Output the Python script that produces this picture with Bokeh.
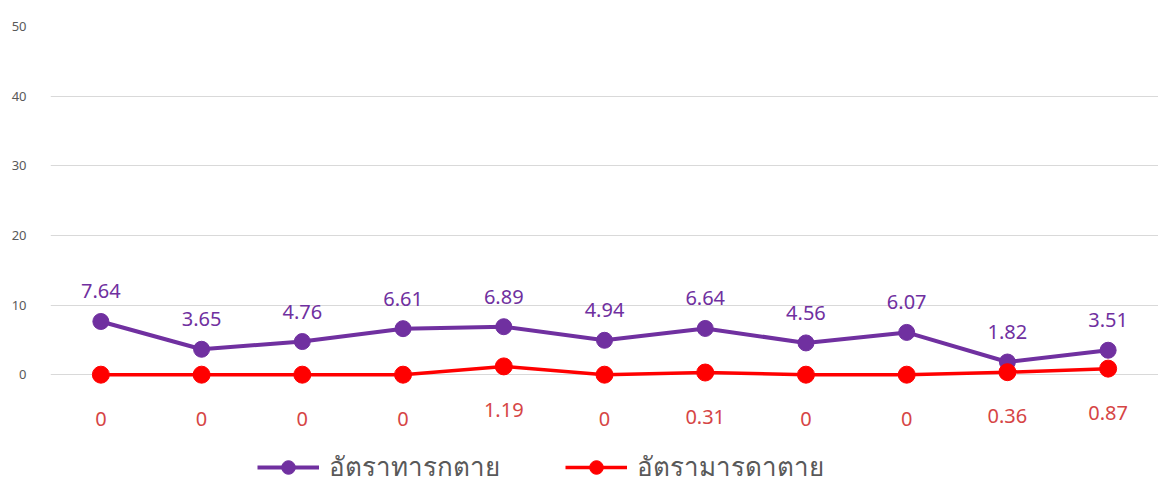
from bokeh.plotting import figure
from bokeh.models import ColumnDataSource, FixedTicker, Legend, LegendItem, Range1d, LabelSet
from bokeh.core.properties import value
from bokeh.embed import file_html
from bokeh.resources import INLINE

points = [1, 2, 3, 4, 5, 6, 7, 8, 9, 10, 11]
infant_rate = [7.64, 3.65, 4.76, 6.61, 6.89, 4.94, 6.64, 4.56, 6.07, 1.82, 3.51]
maternal_rate = [0, 0, 0, 0, 1.19, 0, 0.31, 0, 0, 0.36, 0.87]
y_ticks = [0, 10, 20, 30, 40, 50]
name_infant = "อัตราทารกตาย"
name_maternal = "อัตรามารดาตาย"

purple = "#7030a0"
red = "#ff0000"
red_label = "#d64545"

src_i = ColumnDataSource(dict(x=points, y=infant_rate, t=[f"{v:g}" for v in infant_rate]))
src_m = ColumnDataSource(dict(x=points, y=maternal_rate, t=[f"{v:g}" for v in maternal_rate]))

p = figure(width=1158, height=487, output_backend="svg", toolbar_location=None,
           x_range=Range1d(0.5, 11.5), y_range=Range1d(-16.2, 50),
           min_border_top=26, min_border_left=50, min_border_right=0, min_border_bottom=0)
p.outline_line_color = None
p.xaxis.visible = False
p.xgrid.visible = False
p.ygrid.ticker = FixedTicker(ticks=y_ticks)
p.ygrid.grid_line_color = "#d9d9d9"
p.ygrid.grid_line_width = 1
p.yaxis.ticker = FixedTicker(ticks=y_ticks)
p.yaxis.axis_line_color = None
p.yaxis.major_tick_line_color = None
p.yaxis.minor_tick_line_color = None
p.yaxis.major_label_text_font = "Noto Sans"
p.yaxis.major_label_text_font_size = "13px"
p.yaxis.major_label_text_color = "#595959"
p.yaxis.major_label_standoff = 18

l1 = p.line("x", "y", source=src_i, line_color=purple, line_width=4)
c1 = p.scatter("x", "y", source=src_i, size=16, fill_color=purple, line_color=purple)
l2 = p.line("x", "y", source=src_m, line_color=red, line_width=3.5)
c2 = p.scatter("x", "y", source=src_m, size=17, fill_color=red, line_color=red)

lab1 = LabelSet(x="x", y="y", text="t", source=src_i, y_offset=30, text_align="center",
                text_baseline="middle", text_color=purple, text_font=value("Noto Sans"),
                text_font_size="20px")
lab2 = LabelSet(x="x", y="y", text="t", source=src_m, y_offset=-44, text_align="center",
                text_baseline="middle", text_color=red_label, text_font=value("Noto Sans"),
                text_font_size="20px")
p.add_layout(lab1)
p.add_layout(lab2)

legend = Legend(items=[LegendItem(label=name_infant, renderers=[l1, c1]),
                       LegendItem(label=name_maternal, renderers=[l2, c2])],
                orientation="horizontal", location=(207, 0),
                glyph_width=62, glyph_height=34, spacing=65, label_standoff=10,
                label_text_font_size="26px", label_text_color="#595959",
                label_text_font="Noto Sans", border_line_color=None,
                background_fill_color="white", background_fill_alpha=1,
                padding=3, margin=0)
p.add_layout(legend, "center")

open("out.html", "w").write(file_html(p, INLINE))
